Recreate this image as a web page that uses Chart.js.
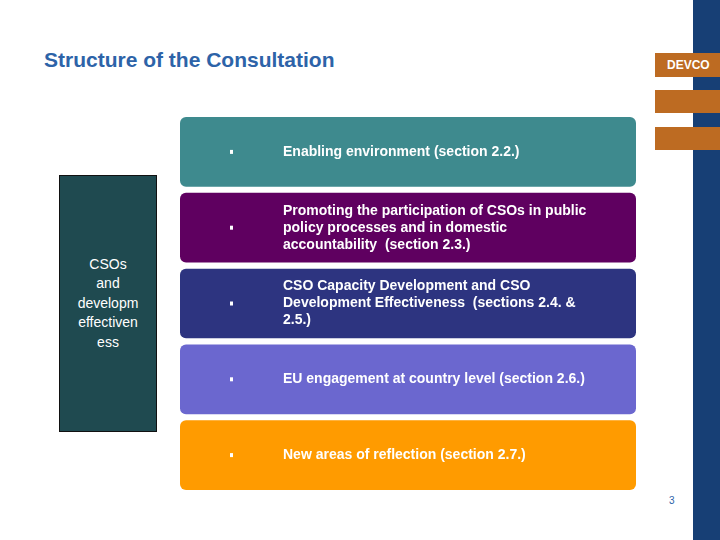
<!DOCTYPE html>
<html><head><meta charset="utf-8">
<script src="https://cdn.jsdelivr.net/npm/chart.js@4"></script>
<style>
body{margin:0;width:720px;height:540px;position:relative;background:#fff;font-family:"Liberation Sans",Arial,sans-serif;overflow:hidden}
.abs{position:absolute}
</style></head><body>
<div class="abs" style="left:44px;top:48px;font-size:21px;font-weight:bold;color:#2d63a8">Structure of the Consultation</div>
<div class="abs" style="left:693px;top:0;width:27px;height:540px;background:#173f75"></div>
<div class="abs" style="left:655px;top:53px;width:65px;height:24px;background:#bd6b22;color:#fff;font-size:12px;font-weight:bold;line-height:24px;padding-left:12px;box-sizing:border-box">DEVCO</div>
<div class="abs" style="left:655px;top:90px;width:65px;height:23px;background:#bd6b22"></div>
<div class="abs" style="left:655px;top:127px;width:65px;height:23px;background:#bd6b22"></div>
<div class="abs" style="left:59px;top:175px;width:96px;height:255px;background:#1f4a50;border:1px solid #111;color:#fff;font-size:14px;text-align:center;display:flex;align-items:center;justify-content:center;line-height:19.5px;overflow:hidden"><div>CSOs<br>and<br>developm<br>effectiven<br>ess</div></div>
<div class="abs" style="left:669px;top:495px;font-size:10px;color:#2d63a8">3</div>
<div class="abs" style="left:180px;top:114px;width:456px;height:379px"><canvas id="c"></canvas></div>
<script>
const categories=["Enabling environment (section 2.2.)","Promoting the participation of CSOs in public|policy processes and in domestic|accountability  (section 2.3.)","CSO Capacity Development and CSO|Development Effectiveness  (sections 2.4. &|2.5.)","EU engagement at country level (section 2.6.)","New areas of reflection (section 2.7.)"];
const values=[1,1,1,1,1];
const colors=["#3e8a8e","#5f0060","#2d3480","#6b67cf","#ff9b00"];
const textPlugin={id:"t",afterDatasetsDraw(ch){const c=ch.ctx;const m=ch.getDatasetMeta(0);c.save();c.fillStyle="#fff";c.textBaseline="middle";
m.data.forEach((b,i)=>{const lines=categories[i].split("|");c.font="bold 14px 'Liberation Sans',Arial";const x0=ch.chartArea.left;
c.fillRect(x0+50,b.y-2,3,4);
lines.forEach((l,j)=>{c.fillText(l,x0+103,b.y+(j-(lines.length-1)/2)*17);});});c.restore();}};
new Chart(document.getElementById("c"),{type:"bar",data:{labels:categories,datasets:[{data:values,backgroundColor:colors,borderRadius:6,borderSkipped:false,barPercentage:0.92,categoryPercentage:1}]},
options:{indexAxis:"y",responsive:true,maintainAspectRatio:false,animation:false,layout:{padding:0},plugins:{legend:{display:false},tooltip:{enabled:false}},
scales:{x:{display:false,min:0,max:1},y:{display:false}}},plugins:[textPlugin]});
</script></body></html>
